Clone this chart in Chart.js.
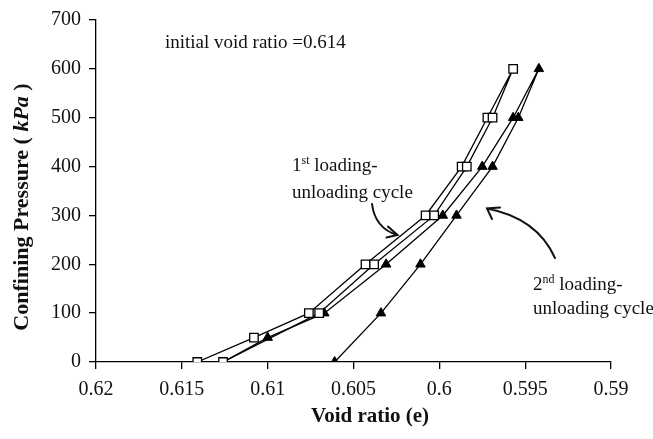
<!DOCTYPE html>
<html>
<head>
<meta charset="utf-8">
<script src="https://cdn.jsdelivr.net/npm/chart.js@4.4.1/dist/chart.umd.min.js"></script>
<style>
  html, body { margin: 0; padding: 0; background: #fff; }
  canvas { display: block; }
</style>
</head>
<body>
<canvas id="voidChart" width="653" height="439"></canvas>
<script>
// confining pressure steps (kPa)
const loadSteps = [0, 50, 100, 200, 300, 400, 500, 600]
const unloadSteps = [500, 400, 300, 200, 100, 0]

// 1st cycle, void ratio
const cycle1Load = [0.6141, 0.6108, 0.6076, 0.6043, 0.6008, 0.5987, 0.5972, 0.5957]
const cycle1Unload = [0.5969, 0.5984, 0.6003, 0.6038, 0.6070, 0.6126]

// 2nd cycle, starts where the 1st one ended
const cycle2Load = [0.6126, 0.6100, 0.6067, 0.6031, 0.5998, 0.5975, 0.5957, 0.5942]
const cycle2Unload = [0.5954, 0.5969, 0.5990, 0.6011, 0.6034, 0.6061]

const xTicks = [0.62, 0.615, 0.61, 0.605, 0.6, 0.595, 0.59]
const yTicks = [0, 100, 200, 300, 400, 500, 600, 700]

function toPoints(eLoad, eUnload) {
    const pts = []
    loadSteps.forEach((p, i) => pts.push({x: eLoad[i], y: p}))
    unloadSteps.forEach((p, i) => pts.push({x: eUnload[i], y: p}))
    return pts
}

const serif = "'Liberation Serif', 'Times New Roman', serif"

// axis titles, notes and arrows
const notes = {
    id: 'notes',
    afterDraw(chart) {
        const ctx = chart.ctx
        ctx.save()
        ctx.fillStyle = '#111'
        ctx.strokeStyle = '#111'

        // y title with italic kPa
        ctx.translate(22, 207)
        ctx.rotate(-Math.PI / 2)
        ctx.textBaseline = 'middle'
        const parts = [
            ['Confining Pressure ( ', 'bold 22px ' + serif],
            ['kPa', 'italic bold 22px ' + serif],
            [' )', 'bold 22px ' + serif]
        ]
        let total = 0
        parts.forEach(p => { ctx.font = p[1]; total += ctx.measureText(p[0]).width })
        let px = -total / 2
        ctx.textAlign = 'left'
        parts.forEach(p => {
            ctx.font = p[1]
            ctx.fillText(p[0], px, 0)
            px += ctx.measureText(p[0]).width
        })
        ctx.setTransform(1, 0, 0, 1, 0, 0)

        // x title
        ctx.font = 'bold 21px ' + serif
        ctx.textAlign = 'center'
        ctx.textBaseline = 'middle'
        ctx.fillText('Void ratio (e)', 370, 417)

        ctx.textAlign = 'left'
        ctx.textBaseline = 'alphabetic'
        ctx.font = '19px ' + serif
        ctx.fillText('initial void ratio =0.614', 165, 48)

        function cycleLabel(num, sup, x, y1, y2) {
            ctx.font = '19px ' + serif
            ctx.fillText(num, x, y1)
            let cx = x + ctx.measureText(num).width
            ctx.font = '12px ' + serif
            ctx.fillText(sup, cx, y1 - 7)
            cx += ctx.measureText(sup).width
            ctx.font = '19px ' + serif
            ctx.fillText(' loading-', cx, y1)
            ctx.fillText('unloading cycle', x, y2)
        }
        cycleLabel('1', 'st', 292, 171, 198)
        cycleLabel('2', 'nd', 533, 290, 314)

        // arrows
        ctx.lineWidth = 2
        ctx.lineCap = 'round'
        ctx.beginPath()
        ctx.moveTo(372, 204)
        ctx.quadraticCurveTo(375, 228, 397, 235)
        ctx.moveTo(388, 226.5)
        ctx.lineTo(397.5, 235)
        ctx.lineTo(386.5, 237.5)
        ctx.stroke()

        ctx.beginPath()
        ctx.moveTo(555, 258)
        ctx.quadraticCurveTo(537, 218, 487, 208.5)
        ctx.moveTo(492, 219)
        ctx.lineTo(487, 208.5)
        ctx.lineTo(500, 207.5)
        ctx.stroke()
        ctx.restore()
    }
}

const tickFont = {family: serif, size: 20}

new Chart(document.getElementById('voidChart'), {
    type: 'scatter',
    data: {
        datasets: [
            {
                label: '1st loading-unloading cycle',
                data: toPoints(cycle1Load, cycle1Unload),
                showLine: true,
                borderColor: '#000',
                borderWidth: 1.3,
                pointStyle: 'rect',
                pointRadius: 6,
                pointBackgroundColor: '#fff',
                pointBorderColor: '#000',
                pointBorderWidth: 1.3
            },
            {
                label: '2nd loading-unloading cycle',
                data: toPoints(cycle2Load, cycle2Unload),
                showLine: true,
                borderColor: '#000',
                borderWidth: 1.3,
                pointStyle: 'triangle',
                pointRadius: c => c.dataIndex === 0 ? 0 : 5.5,
                pointBackgroundColor: '#000',
                pointBorderColor: '#000',
                pointBorderWidth: 1
            }
        ]
    },
    options: {
        responsive: false,
        animation: false,
        layout: {padding: {left: 0, top: 15, right: 42, bottom: 0}},
        plugins: {legend: {display: false}, tooltip: {enabled: false}},
        scales: {
            x: {
                type: 'linear',
                reverse: true,
                min: 0.59,
                max: 0.62,
                afterBuildTicks: s => { s.ticks = xTicks.map(v => ({value: v})) },
                afterFit: s => { s.height = 77 },
                ticks: {color: '#111', font: tickFont, padding: 9, maxRotation: 0, callback: v => String(v)},
                grid: {drawOnChartArea: false, drawTicks: true, tickLength: 7, color: '#000', lineWidth: 1.3},
                border: {display: true, color: '#000', width: 1.3}
            },
            y: {
                min: 0,
                max: 700,
                afterBuildTicks: s => { s.ticks = yTicks.map(v => ({value: v})) },
                afterFit: s => { s.width = 96 },
                ticks: {color: '#111', font: tickFont, padding: 8, callback: v => String(v)},
                grid: {drawOnChartArea: false, drawTicks: true, tickLength: 7, color: '#000', lineWidth: 1.3},
                border: {display: true, color: '#000', width: 1.3}
            }
        }
    },
    plugins: [notes]
})
</script>
</body>
</html>
